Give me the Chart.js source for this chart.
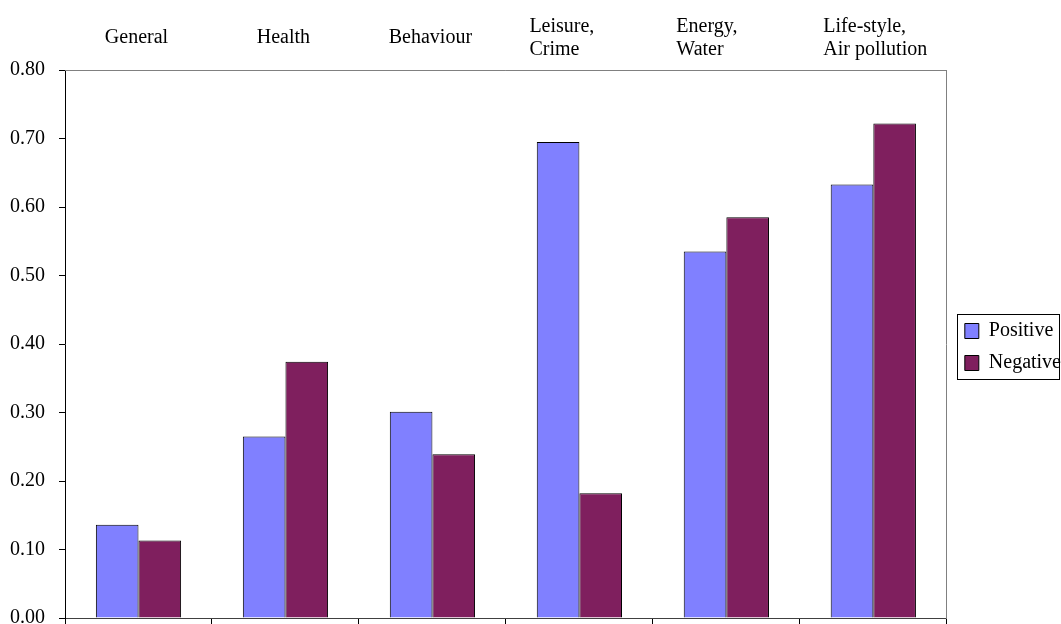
<!DOCTYPE html>
<html>
<head>
<meta charset="utf-8">
<script src="https://cdn.jsdelivr.net/npm/chart.js@4/dist/chart.umd.min.js"></script>
<style>
  html, body { margin: 0; padding: 0; background: #ffffff; }
  #wrap { width: 1061px; height: 624px; position: relative; }
</style>
</head>
<body>
<div id="wrap"><canvas id="c" width="1061" height="624"></canvas></div>
<script>
const categories = [
  ['General'],
  ['Health'],
  ['Behaviour'],
  ['Leisure,', 'Crime'],
  ['Energy,', 'Water'],
  ['Life-style,', 'Air pollution']
];
const seriesNames = ['Positive', 'Negative'];
const positiveValues = [0.136, 0.265, 0.301, 0.695, 0.535, 0.633];
const negativeValues = [0.113, 0.374, 0.239, 0.182, 0.585, 0.722];
const yMin = 0;
const yMax = 0.8;
const yStep = 0.1;

const FONT = "'Liberation Serif', 'Times New Roman', serif";

const topLabelsPlugin = {
  id: 'topLabels',
  afterDraw(chart) {
    const ctx = chart.ctx;
    const xs = chart.scales.x;
    ctx.save();
    ctx.font = '20px ' + FONT;
    ctx.fillStyle = '#000';
    ctx.textBaseline = 'alphabetic';
    categories.forEach((lines, i) => {
      const cx = xs.getPixelForValue(i);
      if (lines.length === 1) {
        ctx.textAlign = 'center';
        ctx.fillText(lines[0], cx - 2, 43);
      } else {
        ctx.textAlign = 'left';
        lines.forEach((ln, j) => ctx.fillText(ln, cx - 50, 32 + j * 22.5));
      }
    });
    ctx.restore();
  }
};

const framePlugin = {
  id: 'frame',
  beforeDatasetsDraw(chart) {
    const ctx = chart.ctx;
    const a = chart.chartArea;
    ctx.save();
    ctx.strokeStyle = '#808080';
    ctx.lineWidth = 1;
    ctx.beginPath();
    ctx.moveTo(a.left, Math.round(a.top) + 0.5);
    ctx.lineTo(a.right, Math.round(a.top) + 0.5);
    ctx.stroke();
    ctx.restore();
  },
  afterDraw(chart) {
    const lg = chart.legend;
    if (!lg || !lg.legendHitBoxes || !lg.legendHitBoxes.length) return;
    const hb = lg.legendHitBoxes;
    const first = hb[0], last = hb[hb.length - 1];
    const ctx = chart.ctx;
    const x0 = Math.round(first.left - 8) + 0.5;
    const y0 = Math.round(first.top - 7) + 0.5;
    const y1 = Math.round(last.top + last.height + 6) + 0.5;
    const x1 = chart.width - 1.5;
    ctx.save();
    ctx.strokeStyle = '#000';
    ctx.lineWidth = 1;
    ctx.strokeRect(x0, y0, x1 - x0, y1 - y0);
    ctx.restore();
  }
};

new Chart(document.getElementById('c'), {
  type: 'bar',
  data: {
    labels: categories,
    datasets: [
      {
        label: seriesNames[0],
        data: positiveValues,
        backgroundColor: '#8080FF',
        borderColor: '#000000',
        borderWidth: 1
      },
      {
        label: seriesNames[1],
        data: negativeValues,
        backgroundColor: '#7F1F5E',
        borderColor: '#000000',
        borderWidth: 1
      }
    ]
  },
  options: {
    responsive: false,
    animation: false,
    devicePixelRatio: 1,
    layout: { padding: { top: 70, left: 10, right: -10, bottom: 0 } },
    datasets: {
      bar: { categoryPercentage: 0.58, barPercentage: 1.0 }
    },
    plugins: {
      tooltip: { enabled: false },
      title: { display: false },
      legend: {
        display: true,
        position: 'right',
        align: 'center',
        labels: {
          font: { family: FONT, size: 20 },
          color: '#000',
          boxWidth: 14,
          boxHeight: 15,
          padding: 12
        }
      }
    },
    scales: {
      x: {
        type: 'category',
        position: 'bottom',
        offset: true,
        grid: {
          display: true,
          offset: true,
          drawOnChartArea: false,
          drawTicks: true,
          tickLength: 6,
          color: '#000'
        },
        border: { display: true, color: '#404040', width: 1 },
        ticks: { display: false },
        afterFit: (s) => { s.height = 6; s.paddingLeft = 0; s.paddingRight = 0; }
      },
      y: {
        type: 'linear',
        position: 'left',
        min: yMin,
        max: yMax,
        grid: {
          display: true,
          drawOnChartArea: false,
          drawTicks: true,
          tickLength: 6,
          color: '#000'
        },
        border: { display: true, color: '#000', width: 1 },
        ticks: {
          stepSize: yStep,
          padding: 14,
          color: '#000',
          font: { family: FONT, size: 20 },
          callback: (v) => Number(v).toFixed(2)
        },
        afterFit: (s) => { s.width = 55; s.paddingTop = 0; s.paddingBottom = 0; }
      },
      y2: {
        type: 'linear',
        position: 'right',
        min: yMin,
        max: yMax,
        grid: {
          display: true,
          drawOnChartArea: false,
          drawTicks: true,
          tickLength: 6,
          color: 'rgba(0,0,0,0)'
        },
        border: { display: true, color: '#808080', width: 1 },
        ticks: { display: false },
        afterFit: (s) => { s.width = 6; s.paddingTop = 0; s.paddingBottom = 0; }
      }
    }
  },
  plugins: [topLabelsPlugin, framePlugin]
});
</script>
</body>
</html>
